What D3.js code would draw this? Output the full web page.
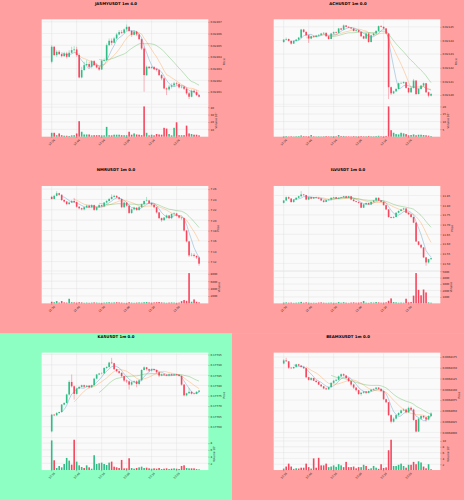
<!DOCTYPE html>
<html>
<head>
<meta charset="utf-8">
<script src="https://cdn.jsdelivr.net/npm/d3@7"></script>
<style>
  body { margin: 0; }
  svg { display: block; font-family: "DejaVu Sans", sans-serif; }
</style>
</head>
<body>
<div id="chart"></div>
<script>
// ---- shared ----
const timeLabels = ["12:36", "12:46", "12:56", "13:06", "13:16", "13:26"];
const timeIdx = [0, 10, 20, 30, 40, 50];

// ---- JASMYUSDT ----
const jasmyOpen = [0.0246359,0.0246487,0.0246416,0.0246444,0.0246424,0.0246407,0.0246430,0.0246401,0.0246436,0.0246458,0.0246464,0.0246416,0.0246225,0.0246288,0.0246330,0.0246339,0.0246316,0.0246364,0.0246330,0.0246310,0.0246293,0.0246367,0.0246373,0.0246501,0.0246538,0.0246521,0.0246558,0.0246592,0.0246612,0.0246606,0.0246635,0.0246657,0.0246623,0.0246589,0.0246617,0.0246592,0.0246552,0.0246472,0.0246245,0.0246316,0.0246305,0.0246313,0.0246296,0.0246288,0.0246245,0.0246217,0.0246131,0.0246123,0.0246146,0.0246157,0.0246174,0.0246168,0.0246140,0.0246146,0.0246128,0.0246089,0.0246060,0.0246111,0.0246100,0.0246074];
const jasmyHigh = [0.0246501,0.0246492,0.0246458,0.0246458,0.0246436,0.0246444,0.0246444,0.0246458,0.0246487,0.0246492,0.0246487,0.0246430,0.0246316,0.0246359,0.0246373,0.0246359,0.0246373,0.0246373,0.0246345,0.0246322,0.0246379,0.0246387,0.0246515,0.0246558,0.0246558,0.0246572,0.0246606,0.0246629,0.0246629,0.0246643,0.0246677,0.0246663,0.0246629,0.0246629,0.0246623,0.0246600,0.0246558,0.0246487,0.0246327,0.0246322,0.0246322,0.0246322,0.0246305,0.0246296,0.0246254,0.0246225,0.0246140,0.0246160,0.0246174,0.0246188,0.0246185,0.0246174,0.0246157,0.0246151,0.0246140,0.0246100,0.0246123,0.0246123,0.0246117,0.0246083];
const jasmyLow = [0.0246345,0.0246407,0.0246401,0.0246416,0.0246396,0.0246401,0.0246387,0.0246396,0.0246430,0.0246444,0.0246401,0.0246217,0.0246217,0.0246282,0.0246322,0.0246302,0.0246302,0.0246322,0.0246302,0.0246282,0.0246288,0.0246359,0.0246367,0.0246492,0.0246501,0.0246515,0.0246549,0.0246586,0.0246595,0.0246600,0.0246623,0.0246612,0.0246572,0.0246583,0.0246578,0.0246544,0.0246458,0.0246103,0.0246237,0.0246296,0.0246299,0.0246288,0.0246276,0.0246237,0.0246202,0.0246123,0.0246074,0.0246111,0.0246131,0.0246146,0.0246157,0.0246131,0.0246131,0.0246117,0.0246077,0.0246040,0.0246055,0.0246089,0.0246066,0.0246055];
const jasmyClose = [0.0246487,0.0246416,0.0246444,0.0246424,0.0246407,0.0246430,0.0246401,0.0246436,0.0246458,0.0246464,0.0246416,0.0246225,0.0246288,0.0246330,0.0246339,0.0246316,0.0246364,0.0246330,0.0246310,0.0246293,0.0246367,0.0246373,0.0246501,0.0246538,0.0246521,0.0246558,0.0246592,0.0246612,0.0246606,0.0246635,0.0246657,0.0246623,0.0246589,0.0246617,0.0246592,0.0246552,0.0246472,0.0246245,0.0246316,0.0246305,0.0246313,0.0246296,0.0246288,0.0246245,0.0246217,0.0246131,0.0246123,0.0246146,0.0246157,0.0246174,0.0246168,0.0246140,0.0246146,0.0246128,0.0246089,0.0246060,0.0246111,0.0246100,0.0246074,0.0246060];
const jasmyVol = [5.3e5,5.3e5,2e5,4.4e5,2e5,1.3e5,1.3e5,1e5,1.8e5,2e5,4.4e5,21e5,6.7e5,3e5,3e5,3e5,1.8e5,2e5,2e5,2e5,1.8e5,1.8e5,13.3e5,2e5,1.8e5,2.7e5,2.7e5,2.7e5,2e5,2e5,2e5,6.7e5,2.7e5,4.4e5,3e5,2.7e5,2e5,41e5,5.3e5,1.8e5,2.7e5,1.8e5,3.6e5,3e5,2.7e5,12e5,11e5,3.6e5,1.8e5,12e5,19.5e5,2e5,2e5,2e5,15e5,4.4e5,3.6e5,2.7e5,2.7e5,1.8e5];
const jasmyTicks = [0.02461,0.02462,0.02463,0.02464,0.02465,0.02466,0.02467];
const jasmyVolTicks = [1e6,2e6,3e6,4e6];

// ---- ACHUSDT ----
const achOpen = [0.0214389,0.0214406,0.0214411,0.0214397,0.0214377,0.0214397,0.0214406,0.0214421,0.0214480,0.0214463,0.0214438,0.0214414,0.0214431,0.0214426,0.0214436,0.0214441,0.0214451,0.0214456,0.0214431,0.0214411,0.0214451,0.0214461,0.0214456,0.0214488,0.0214480,0.0214510,0.0214500,0.0214495,0.0214488,0.0214470,0.0214475,0.0214463,0.0214431,0.0214414,0.0214451,0.0214389,0.0214438,0.0214451,0.0214470,0.0214505,0.0214500,0.0214488,0.0214451,0.0214057,0.0214012,0.0214027,0.0214044,0.0214086,0.0214087,0.0214094,0.0214052,0.0214020,0.0214052,0.0214106,0.0214007,0.0214044,0.0214069,0.0214086,0.0214020,0.0213995];
const achHigh = [0.0214411,0.0214421,0.0214414,0.0214399,0.0214401,0.0214411,0.0214426,0.0214485,0.0214485,0.0214466,0.0214441,0.0214436,0.0214436,0.0214441,0.0214446,0.0214456,0.0214461,0.0214458,0.0214436,0.0214456,0.0214466,0.0214466,0.0214492,0.0214492,0.0214517,0.0214512,0.0214505,0.0214497,0.0214490,0.0214480,0.0214478,0.0214466,0.0214436,0.0214456,0.0214456,0.0214443,0.0214456,0.0214475,0.0214510,0.0214512,0.0214503,0.0214492,0.0214456,0.0214062,0.0214032,0.0214052,0.0214091,0.0214097,0.0214100,0.0214097,0.0214055,0.0214057,0.0214118,0.0214108,0.0214050,0.0214074,0.0214091,0.0214089,0.0214025,0.0214015];
const achLow = [0.0214382,0.0214401,0.0214392,0.0214369,0.0214374,0.0214392,0.0214401,0.0214416,0.0214456,0.0214431,0.0214382,0.0214409,0.0214421,0.0214421,0.0214431,0.0214436,0.0214446,0.0214426,0.0214406,0.0214409,0.0214446,0.0214451,0.0214453,0.0214475,0.0214475,0.0214497,0.0214490,0.0214483,0.0214466,0.0214463,0.0214458,0.0214426,0.0214409,0.0214409,0.0214382,0.0214385,0.0214433,0.0214446,0.0214466,0.0214497,0.0214483,0.0214446,0.0213970,0.0214000,0.0214007,0.0214022,0.0214040,0.0214081,0.0214084,0.0214047,0.0214012,0.0214015,0.0214047,0.0214000,0.0214005,0.0214040,0.0214062,0.0214015,0.0213983,0.0213990];
const achClose = [0.0214406,0.0214411,0.0214397,0.0214377,0.0214397,0.0214406,0.0214421,0.0214480,0.0214463,0.0214438,0.0214414,0.0214431,0.0214426,0.0214436,0.0214441,0.0214451,0.0214456,0.0214431,0.0214411,0.0214451,0.0214461,0.0214456,0.0214488,0.0214480,0.0214510,0.0214500,0.0214495,0.0214488,0.0214470,0.0214475,0.0214463,0.0214431,0.0214414,0.0214451,0.0214389,0.0214438,0.0214451,0.0214470,0.0214505,0.0214500,0.0214488,0.0214451,0.0214057,0.0214012,0.0214027,0.0214044,0.0214086,0.0214087,0.0214094,0.0214052,0.0214020,0.0214052,0.0214106,0.0214007,0.0214044,0.0214069,0.0214086,0.0214020,0.0213995,0.0214007];
const achVol = [0.3e5,0.4e5,0.2e5,0.3e5,0.2e5,0.3e5,0.4e5,0.8e5,0.4e5,0.3e5,0.3e5,1.1e5,0.3e5,0.2e5,0.3e5,0.2e5,0.3e5,0.4e5,0.3e5,0.3e5,0.4e5,0.3e5,1.1e5,0.4e5,0.5e5,0.3e5,0.3e5,0.2e5,0.4e5,0.3e5,0.3e5,0.4e5,0.3e5,0.3e5,0.5e5,0.3e5,0.3e5,0.4e5,0.6e5,0.3e5,0.3e5,0.5e5,20e5,4.3e5,2.6e5,1.7e5,1.5e5,2.6e5,2.2e5,1.7e5,0.9e5,1.1e5,1.5e5,0.9e5,1.3e5,1.3e5,1.1e5,0.9e5,0.7e5,0.4e5];
const achTicks = [0.02140,0.02141,0.02142,0.02143,0.02144,0.02145];
const achVolTicks = [5e5,10e5,15e5,20e5];

// ---- NMRUSDT ----
const nmrOpen = [7.245,7.241,7.247,7.252,7.249,7.239,7.236,7.231,7.234,7.237,7.235,7.226,7.223,7.221,7.225,7.228,7.225,7.229,7.220,7.225,7.229,7.227,7.234,7.237,7.241,7.245,7.247,7.244,7.241,7.225,7.234,7.228,7.214,7.221,7.224,7.220,7.225,7.231,7.237,7.238,7.233,7.230,7.225,7.215,7.204,7.200,7.205,7.209,7.204,7.212,7.213,7.209,7.205,7.204,7.180,7.159,7.132,7.133,7.131,7.128];
const nmrHigh = [7.247,7.249,7.256,7.253,7.250,7.240,7.237,7.236,7.239,7.243,7.236,7.227,7.224,7.226,7.230,7.230,7.231,7.230,7.226,7.231,7.230,7.235,7.239,7.243,7.250,7.249,7.248,7.245,7.242,7.236,7.235,7.229,7.223,7.226,7.225,7.227,7.232,7.238,7.245,7.239,7.234,7.231,7.226,7.216,7.205,7.206,7.211,7.210,7.213,7.215,7.214,7.210,7.206,7.205,7.181,7.160,7.137,7.136,7.132,7.130];
const nmrLow = [7.240,7.240,7.246,7.247,7.237,7.234,7.229,7.230,7.233,7.233,7.224,7.221,7.219,7.219,7.223,7.223,7.223,7.218,7.218,7.224,7.226,7.225,7.232,7.236,7.240,7.244,7.243,7.239,7.223,7.223,7.226,7.212,7.212,7.219,7.218,7.218,7.224,7.230,7.236,7.231,7.228,7.223,7.213,7.202,7.197,7.199,7.203,7.202,7.202,7.210,7.207,7.203,7.201,7.178,7.157,7.129,7.130,7.128,7.125,7.112];
const nmrClose = [7.241,7.247,7.252,7.249,7.239,7.236,7.231,7.234,7.237,7.235,7.226,7.223,7.221,7.225,7.228,7.225,7.229,7.220,7.225,7.229,7.227,7.234,7.237,7.241,7.245,7.247,7.244,7.241,7.225,7.234,7.228,7.214,7.221,7.224,7.220,7.225,7.231,7.237,7.238,7.233,7.230,7.225,7.215,7.204,7.200,7.205,7.209,7.204,7.212,7.213,7.209,7.205,7.204,7.180,7.159,7.132,7.133,7.131,7.128,7.116];
const nmrVol = [440,300,620,200,620,250,200,1240,300,250,200,300,250,150,200,150,200,250,200,150,150,200,250,300,200,250,300,250,200,150,150,300,200,150,200,250,200,300,350,250,200,250,300,350,250,200,150,200,250,200,150,200,600,900,700,8180,440,1070,440,270];
const nmrTicks = [7.12,7.14,7.16,7.18,7.20,7.22,7.24,7.26];
const nmrVolTicks = [2000,4000,6000,8000];

// ---- ILVUSDT ----
const ilvOpen = [11.812,11.824,11.841,11.834,11.816,11.829,11.838,11.846,11.855,11.852,11.829,11.841,11.834,11.841,11.838,11.834,11.824,11.817,11.826,11.829,11.838,11.841,11.834,11.838,11.841,11.846,11.838,11.846,11.829,11.821,11.817,11.812,11.787,11.804,11.811,11.804,11.817,11.824,11.838,11.824,11.817,11.800,11.778,11.739,11.735,11.739,11.761,11.770,11.778,11.783,11.761,11.753,11.739,11.710,11.613,11.596,11.582,11.531,11.505,11.522];
const ilvHigh = [11.826,11.845,11.845,11.836,11.831,11.840,11.848,11.872,11.858,11.853,11.843,11.843,11.843,11.843,11.840,11.836,11.826,11.828,11.831,11.840,11.843,11.843,11.840,11.843,11.848,11.848,11.848,11.846,11.831,11.822,11.819,11.813,11.806,11.813,11.813,11.819,11.826,11.840,11.840,11.826,11.819,11.802,11.780,11.741,11.744,11.763,11.773,11.781,11.787,11.785,11.763,11.755,11.741,11.712,11.615,11.598,11.584,11.533,11.524,11.531];
const ilvLow = [11.809,11.822,11.831,11.813,11.813,11.826,11.836,11.843,11.848,11.826,11.826,11.831,11.831,11.836,11.831,11.822,11.813,11.815,11.824,11.826,11.836,11.833,11.831,11.836,11.839,11.836,11.836,11.826,11.819,11.814,11.809,11.785,11.785,11.802,11.802,11.802,11.815,11.822,11.821,11.815,11.798,11.775,11.735,11.732,11.732,11.737,11.759,11.768,11.776,11.759,11.749,11.736,11.707,11.610,11.593,11.577,11.527,11.488,11.500,11.517];
const ilvClose = [11.824,11.841,11.834,11.816,11.829,11.838,11.846,11.855,11.852,11.829,11.841,11.834,11.841,11.838,11.834,11.824,11.817,11.826,11.829,11.838,11.841,11.834,11.838,11.841,11.846,11.838,11.846,11.829,11.821,11.817,11.812,11.787,11.804,11.811,11.804,11.817,11.824,11.838,11.824,11.817,11.800,11.778,11.739,11.735,11.739,11.761,11.770,11.778,11.783,11.761,11.753,11.739,11.710,11.613,11.596,11.582,11.531,11.505,11.522,11.527];
const ilvVol = [120,150,100,120,80,100,130,230,100,150,120,80,100,80,120,150,100,80,100,120,100,80,200,100,180,100,80,120,150,100,120,150,360,100,80,150,120,200,150,100,120,150,400,770,200,150,100,120,100,720,150,200,1200,4700,2100,1250,2150,1700,150,100];
const ilvTicks = [11.50,11.55,11.60,11.65,11.70,11.75,11.80,11.85];
const ilvVolTicks = [1000,2000,3000,4000,5000];

// ---- KASUSDT ----
const kasOpen = [0.177577,0.177658,0.177655,0.177666,0.177671,0.177707,0.177715,0.177756,0.177817,0.177796,0.177759,0.177785,0.177793,0.177801,0.177794,0.177799,0.177791,0.177801,0.177833,0.177853,0.177858,0.177859,0.177885,0.177890,0.177911,0.177908,0.177879,0.177869,0.177861,0.177845,0.177824,0.177820,0.177804,0.177816,0.177820,0.177807,0.177825,0.177875,0.177888,0.177879,0.177872,0.177879,0.177875,0.177864,0.177848,0.177854,0.177851,0.177848,0.177854,0.177850,0.177854,0.177851,0.177846,0.177804,0.177752,0.177762,0.177769,0.177760,0.177759,0.177769];
const kasHigh = [0.177662,0.177662,0.177671,0.177673,0.177710,0.177718,0.177760,0.177825,0.177853,0.177800,0.177790,0.177796,0.177804,0.177804,0.177801,0.177801,0.177804,0.177837,0.177856,0.177861,0.177864,0.177888,0.177893,0.177915,0.177934,0.177910,0.177881,0.177872,0.177864,0.177848,0.177829,0.177824,0.177820,0.177824,0.177825,0.177829,0.177879,0.177893,0.177890,0.177881,0.177882,0.177881,0.177877,0.177866,0.177858,0.177858,0.177856,0.177858,0.177858,0.177856,0.177856,0.177855,0.177850,0.177807,0.177765,0.177788,0.177772,0.177765,0.177772,0.177778];
const kasLow = [0.177572,0.177652,0.177652,0.177663,0.177668,0.177704,0.177712,0.177752,0.177790,0.177731,0.177756,0.177783,0.177790,0.177788,0.177791,0.177785,0.177788,0.177799,0.177830,0.177851,0.177854,0.177856,0.177880,0.177885,0.177905,0.177875,0.177864,0.177856,0.177840,0.177817,0.177812,0.177780,0.177799,0.177812,0.177791,0.177801,0.177820,0.177872,0.177872,0.177864,0.177867,0.177869,0.177859,0.177840,0.177845,0.177846,0.177845,0.177845,0.177846,0.177846,0.177848,0.177843,0.177799,0.177747,0.177747,0.177760,0.177756,0.177756,0.177757,0.177766];
const kasClose = [0.177658,0.177655,0.177666,0.177671,0.177707,0.177715,0.177756,0.177817,0.177796,0.177759,0.177785,0.177793,0.177801,0.177794,0.177799,0.177791,0.177801,0.177833,0.177853,0.177858,0.177859,0.177885,0.177890,0.177911,0.177908,0.177879,0.177869,0.177861,0.177845,0.177824,0.177820,0.177804,0.177816,0.177820,0.177807,0.177825,0.177875,0.177888,0.177879,0.177872,0.177879,0.177875,0.177864,0.177848,0.177854,0.177851,0.177848,0.177854,0.177850,0.177854,0.177851,0.177846,0.177804,0.177752,0.177762,0.177769,0.177760,0.177759,0.177769,0.177775];
const kasVol = [8.8e5,2.9e5,0.6e5,1.2e5,0.8e5,1.8e5,3.6e5,2.8e5,1.6e5,9.0e5,2.5e5,1.4e5,0.9e5,0.6e5,1.4e5,0.8e5,0.4e5,4.4e5,1.8e5,2.0e5,2.2e5,1.8e5,1.5e5,2.2e5,2.5e5,1.0e5,0.8e5,0.6e5,3.0e5,0.5e5,0.5e5,3.5e5,0.6e5,0.4e5,0.6e5,0.8e5,1.0e5,0.6e5,0.7e5,0.5e5,0.4e5,0.5e5,0.4e5,0.6e5,0.3e5,0.4e5,0.5e5,0.3e5,0.4e5,0.5e5,0.4e5,0.3e5,1.2e5,1.4e5,0.6e5,0.5e5,0.5e5,0.5e5,0.3e5,0.2e5];
const kasTicks = [0.17760,0.17765,0.17770,0.17775,0.17780,0.17785,0.17790,0.17795];
const kasVolTicks = [2e5,4e5,6e5,8e5];

// ---- BEAMXUSDT ----
const beamxOpen = [0.0068160,0.0068167,0.0068165,0.0068150,0.0068149,0.0068152,0.0068158,0.0068155,0.0068152,0.0068149,0.0068128,0.0068122,0.0068126,0.0068120,0.0068117,0.0068111,0.0068107,0.0068102,0.0068100,0.0068105,0.0068115,0.0068120,0.0068122,0.0068130,0.0068135,0.0068132,0.0068126,0.0068119,0.0068111,0.0068104,0.0068098,0.0068089,0.0068092,0.0068095,0.0068092,0.0068096,0.0068099,0.0068101,0.0068104,0.0068101,0.0068096,0.0068077,0.0068070,0.0068040,0.0068025,0.0068032,0.0068040,0.0068045,0.0068051,0.0068053,0.0068047,0.0068057,0.0068053,0.0068029,0.0068002,0.0068032,0.0068038,0.0068035,0.0068030,0.0068038];
const beamxHigh = [0.0068170,0.0068173,0.0068165,0.0068152,0.0068152,0.0068159,0.0068159,0.0068156,0.0068153,0.0068150,0.0068129,0.0068128,0.0068127,0.0068120,0.0068119,0.0068112,0.0068108,0.0068104,0.0068106,0.0068116,0.0068122,0.0068124,0.0068132,0.0068137,0.0068137,0.0068133,0.0068128,0.0068120,0.0068113,0.0068105,0.0068099,0.0068094,0.0068095,0.0068096,0.0068097,0.0068101,0.0068102,0.0068105,0.0068105,0.0068102,0.0068098,0.0068078,0.0068070,0.0068042,0.0068035,0.0068042,0.0068047,0.0068053,0.0068056,0.0068055,0.0068060,0.0068060,0.0068055,0.0068030,0.0068034,0.0068040,0.0068040,0.0068036,0.0068040,0.0068047];
const beamxLow = [0.0068158,0.0068164,0.0068147,0.0068147,0.0068147,0.0068150,0.0068154,0.0068150,0.0068147,0.0068126,0.0068120,0.0068120,0.0068119,0.0068115,0.0068110,0.0068105,0.0068100,0.0068099,0.0068099,0.0068104,0.0068113,0.0068119,0.0068120,0.0068128,0.0068130,0.0068125,0.0068117,0.0068107,0.0068101,0.0068095,0.0068087,0.0068085,0.0068090,0.0068089,0.0068090,0.0068094,0.0068098,0.0068099,0.0068099,0.0068094,0.0068075,0.0068068,0.0068038,0.0068021,0.0068023,0.0068030,0.0068038,0.0068042,0.0068050,0.0068044,0.0068045,0.0068051,0.0068027,0.0068000,0.0068001,0.0068029,0.0068032,0.0068025,0.0068028,0.0068036];
const beamxClose = [0.0068167,0.0068165,0.0068150,0.0068149,0.0068152,0.0068158,0.0068155,0.0068152,0.0068149,0.0068128,0.0068122,0.0068126,0.0068120,0.0068117,0.0068111,0.0068107,0.0068102,0.0068100,0.0068105,0.0068115,0.0068120,0.0068122,0.0068130,0.0068135,0.0068132,0.0068126,0.0068119,0.0068111,0.0068104,0.0068098,0.0068089,0.0068092,0.0068095,0.0068092,0.0068096,0.0068099,0.0068101,0.0068104,0.0068101,0.0068096,0.0068077,0.0068070,0.0068040,0.0068025,0.0068032,0.0068040,0.0068045,0.0068051,0.0068053,0.0068047,0.0068057,0.0068053,0.0068029,0.0068002,0.0068032,0.0068038,0.0068035,0.0068030,0.0068038,0.0068044];
const beamxVol = [0.5e5,1.2e5,2.2e5,1.2e5,0.4e5,0.6e5,0.5e5,0.8e5,0.8e5,2.2e5,1.0e5,0.5e5,4.0e5,0.8e5,4.2e5,1.6e5,1.6e5,2.2e5,1.0e5,1.2e5,1.6e5,1.1e5,2.0e5,1.6e5,1.0e5,2.8e5,1.0e5,1.0e5,1.2e5,0.6e5,1.0e5,1.0e5,1.8e5,1.4e5,0.4e5,0.6e5,1.4e5,0.8e5,0.4e5,2.0e5,0.7e5,0.9e5,6.8e5,10.4e5,1.4e5,1.4e5,1.8e5,2.2e5,1.4e5,0.8e5,1.8e5,1.8e5,2.8e5,2.0e5,3.0e5,2.6e5,1.2e5,0.6e5,2.0e5,0.3e5];
const beamxTicks = [0.0068000,0.0068025,0.0068050,0.0068075,0.0068100,0.0068125,0.0068150,0.0068175];
const beamxVolTicks = [2e5,4e5,6e5,8e5,10e5];

// ---- layout ----
const panelW = 464 / 2, panelH = 500 / 3;
const plotL = 41.7, plotR = 208.3, priceT = 19.3, priceB = 104.3, volB = 136.7;
const upColor = "#2ebd85", downColor = "#f6465d";
const maWindows = [5, 10, 20];
const maColors = ["#1f77b4", "#ff7f0e", "#2ca02c"];
const pink = "#ff9f9f", mint = "#8effc3";

const panels = [
  { title: "JASMYUSDT 1m 4.0", bg: pink, o: jasmyOpen, h: jasmyHigh, l: jasmyLow, c: jasmyClose, v: jasmyVol, ticks: jasmyTicks, fmt: ".5f", volTicks: jasmyVolTicks, volExp: 5 },
  { title: "ACHUSDT 1m 0.0", bg: pink, o: achOpen, h: achHigh, l: achLow, c: achClose, v: achVol, ticks: achTicks, fmt: ".5f", volTicks: achVolTicks, volExp: 5 },
  { title: "NMRUSDT 1m 0.0", bg: pink, o: nmrOpen, h: nmrHigh, l: nmrLow, c: nmrClose, v: nmrVol, ticks: nmrTicks, fmt: ".2f", volTicks: nmrVolTicks, volExp: 0 },
  { title: "ILVUSDT 1m 0.0", bg: pink, o: ilvOpen, h: ilvHigh, l: ilvLow, c: ilvClose, v: ilvVol, ticks: ilvTicks, fmt: ".2f", volTicks: ilvVolTicks, volExp: 0 },
  { title: "KASUSDT 1m 0.0", bg: mint, o: kasOpen, h: kasHigh, l: kasLow, c: kasClose, v: kasVol, ticks: kasTicks, fmt: ".5f", volTicks: kasVolTicks, volExp: 5 },
  { title: "BEAMXUSDT 1m 0.0", bg: pink, o: beamxOpen, h: beamxHigh, l: beamxLow, c: beamxClose, v: beamxVol, ticks: beamxTicks, fmt: ".7f", volTicks: beamxVolTicks, volExp: 5 }
];

const svg = d3.select("#chart").append("svg")
  .attr("width", 464)
  .attr("height", 500);

function movingAvg(vals, n) {
  return vals.map((v, i) => i < n - 1 ? null : d3.mean(vals.slice(i - n + 1, i + 1)));
}

const supers = { "0": "⁰", "1": "¹", "2": "²", "3": "³", "4": "⁴", "5": "⁵", "6": "⁶" };

panels.forEach((p, k) => {
  const g = svg.append("g")
    .attr("transform", `translate(${(k % 2) * panelW},${Math.floor(k / 2) * panelH})`);

  g.append("rect")
    .attr("width", panelW)
    .attr("height", panelH + 0.5)
    .attr("fill", p.bg);

  g.append("text")
    .attr("x", panelW / 2)
    .attr("y", 4.8)
    .attr("text-anchor", "middle")
    .attr("font-size", 3.9)
    .attr("font-weight", "bold")
    .text(p.title);

  const n = p.c.length;
  const x = d3.scaleLinear().domain([-4, 62.7]).range([plotL, plotR]);
  const lo = d3.min(p.l), hi = d3.max(p.h), pad = (hi - lo) * 0.07;
  const y = d3.scaleLinear().domain([lo - pad, hi + pad]).range([priceB, priceT]);
  const yv = d3.scaleLinear().domain([0, d3.max(p.v) * 1.07]).range([volB, priceB]);

  // plot backgrounds
  g.append("rect")
    .attr("x", plotL).attr("y", priceT)
    .attr("width", plotR - plotL).attr("height", volB - priceT)
    .attr("fill", "#fafafa");

  // grid
  const grid = g.append("g").attr("stroke", "#dedede").attr("stroke-width", 0.4);
  grid.selectAll(".vg").data(timeIdx).join("line")
    .attr("x1", d => x(d)).attr("x2", d => x(d))
    .attr("y1", priceT).attr("y2", volB);
  grid.selectAll(".hg").data(p.ticks).join("line")
    .attr("x1", plotL).attr("x2", plotR)
    .attr("y1", d => y(d)).attr("y2", d => y(d));
  grid.selectAll(".hv").data(p.volTicks.filter(t => t <= yv.domain()[1])).join("line")
    .attr("x1", plotL).attr("x2", plotR)
    .attr("y1", d => yv(d)).attr("y2", d => yv(d));
  g.append("line")
    .attr("x1", plotL).attr("x2", plotR)
    .attr("y1", priceB).attr("y2", priceB)
    .attr("stroke", "#e6e6e6").attr("stroke-width", 0.5);

  const idx = d3.range(n);
  const col = i => p.c[i] >= p.o[i] ? upColor : downColor;

  // volume bars
  g.append("g").selectAll("rect").data(idx).join("rect")
    .attr("x", i => x(i) - 0.8)
    .attr("width", 1.6)
    .attr("y", i => yv(p.v[i]))
    .attr("height", i => volB - yv(p.v[i]))
    .attr("fill", col);

  // moving averages
  maWindows.forEach((w, j) => {
    const ma = movingAvg(p.c, w);
    const line = d3.line()
      .defined(i => ma[i] !== null)
      .x(i => x(i))
      .y(i => y(ma[i]));
    g.append("path")
      .attr("d", line(idx))
      .attr("fill", "none")
      .attr("stroke", maColors[j])
      .attr("stroke-opacity", 0.5)
      .attr("stroke-width", 0.6);
  });

  // candles
  const cg = g.append("g");
  cg.selectAll(".wick").data(idx).join("line")
    .attr("x1", i => x(i)).attr("x2", i => x(i))
    .attr("y1", i => y(p.h[i])).attr("y2", i => y(p.l[i]))
    .attr("stroke", col)
    .attr("stroke-width", 0.4);
  cg.selectAll(".body").data(idx).join("rect")
    .attr("x", i => x(i) - 0.8)
    .attr("width", 1.6)
    .attr("y", i => y(Math.max(p.o[i], p.c[i])))
    .attr("height", i => Math.max(0.3, Math.abs(y(p.o[i]) - y(p.c[i]))))
    .attr("fill", col);

  // right axes
  const fmt = d3.format(p.fmt);
  const ax = g.append("g")
    .attr("transform", `translate(${plotR},0)`)
    .call(d3.axisRight(y).tickValues(p.ticks).tickSize(1.2).tickPadding(1).tickFormat(fmt));
  const scale = Math.pow(10, p.volExp);
  const axv = g.append("g")
    .attr("transform", `translate(${plotR},0)`)
    .call(d3.axisRight(yv).tickValues(p.volTicks.filter(t => t <= yv.domain()[1]))
      .tickSize(1.2).tickPadding(1).tickFormat(d => String(+(d / scale).toFixed(2))));
  [ax, axv].forEach(a => {
    a.select(".domain").remove();
    a.selectAll("line").attr("stroke", "#444").attr("stroke-width", 0.3);
    a.selectAll("text").attr("font-size", 2.7).attr("fill", "#222").attr("font-family", "DejaVu Sans");
  });

  const wP = d3.max(ax.selectAll("text").nodes(), t => t.getBBox().width);
  const wV = d3.max(axv.selectAll("text").nodes(), t => t.getBBox().width);

  g.append("text")
    .attr("transform", `translate(${plotR + 2.2 + wP + 2.6},${(priceT + priceB) / 2}) rotate(-90)`)
    .attr("text-anchor", "middle")
    .attr("font-size", 2.8)
    .attr("fill", "#222")
    .text("Price");

  g.append("text")
    .attr("transform", `translate(${plotR + 2.2 + wV + 2.6},${(priceB + volB) / 2}) rotate(-90)`)
    .attr("text-anchor", "middle")
    .attr("font-size", 2.8)
    .attr("fill", "#222")
    .text(p.volExp ? `Volume  10${supers[p.volExp]}` : "Volume");

  // x ticks
  const xg = g.append("g");
  xg.selectAll("line").data(timeIdx).join("line")
    .attr("x1", d => x(d)).attr("x2", d => x(d))
    .attr("y1", volB).attr("y2", volB + 1.2)
    .attr("stroke", "#444").attr("stroke-width", 0.3);
  xg.selectAll("text").data(timeIdx).join("text")
    .attr("transform", d => `translate(${x(d)},${volB + 5.6}) rotate(-45)`)
    .attr("text-anchor", "middle")
    .attr("dominant-baseline", "central")
    .attr("font-size", 2.7)
    .attr("fill", "#222")
    .text((d, i) => timeLabels[i]);
});
</script>
</body>
</html>
